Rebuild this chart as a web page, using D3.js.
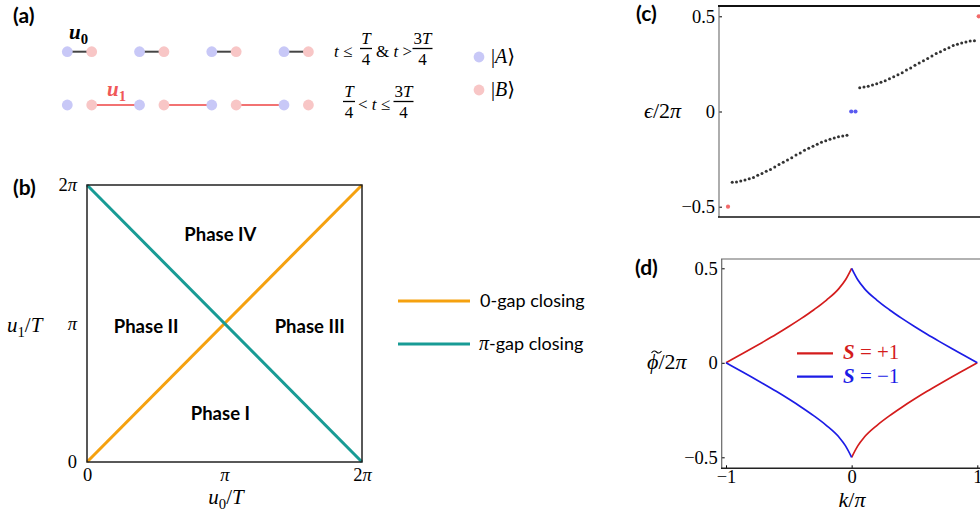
<!DOCTYPE html>
<html>
<head>
<meta charset="utf-8">
<script src="https://cdn.jsdelivr.net/npm/d3@7"></script>
<style>
  body { margin: 0; background: #fff; }
  svg { display: block; }
  .tag { font-family: Lato, "Open Sans", sans-serif; font-weight: bold; font-size: 21px; }
  .phase { font-family: Lato, "Open Sans", sans-serif; font-weight: bold; font-size: 18.5px; }
  .sans { font-family: Lato, "Open Sans", sans-serif; font-size: 18px; }
  .math { font-family: "Liberation Serif", "DejaVu Serif", serif; }
  .tick text { font-family: "Liberation Serif", "DejaVu Serif", serif; font-size: 18.5px; fill: #000; }
</style>
</head>
<body>
<div id="fig"></div>
<script>
// (a) SSH chain
var cells = [0, 1, 2, 3];
var sublattices = ["A", "B"];

// (b) phase diagram, axes in units of pi
var gapZero = [[0, 0], [2, 2]];
var gapPi = [[0, 2], [2, 0]];
var phaseNames = ["Phase I", "Phase II", "Phase III", "Phase IV"];
var piTicks = [0, 1, 2];
var gapNames = ["0-gap closing", "\u03C0-gap closing"];

// (c) quasienergy spectrum, eigenvalue index 1..60
var edgeBottom = [-0.5];
var bulkLow = [-0.372, -0.370, -0.365, -0.360, -0.353, -0.346, -0.335, -0.325, -0.314, -0.304,
               -0.291, -0.279, -0.267, -0.255, -0.243, -0.228, -0.218, -0.204, -0.193, -0.183,
               -0.172, -0.162, -0.153, -0.146, -0.139, -0.132, -0.129, -0.125];
var edgeZero = [0, 0];
var bulkHigh = [0.125, 0.129, 0.132, 0.139, 0.146, 0.153, 0.162, 0.172, 0.183, 0.193,
                0.204, 0.218, 0.228, 0.243, 0.255, 0.267, 0.279, 0.291, 0.304, 0.314,
                0.325, 0.335, 0.346, 0.353, 0.360, 0.365, 0.370, 0.372];
var edgeTop = [0.5];
var epsTicks = [-0.5, 0, 0.5];

// (d) phase of the winding
var kLeft = [-1, -0.9, -0.8, -0.7, -0.6, -0.5, -0.4, -0.3, -0.2, -0.1, -0.05, 0];
var kRight = [0, 0.05, 0.1, 0.2, 0.3, 0.4, 0.5, 0.6, 0.7, 0.8, 0.9, 1];
var sPlusLeft = [0, 0.037, 0.074, 0.112, 0.151, 0.192, 0.235, 0.281, 0.332, 0.394, 0.438, 0.5];
var sPlusRight = [-0.5, -0.438, -0.394, -0.332, -0.281, -0.235, -0.192, -0.151, -0.112, -0.074, -0.037, 0];
var sMinusLeft = [0, -0.037, -0.074, -0.112, -0.151, -0.192, -0.235, -0.281, -0.332, -0.394, -0.438, -0.5];
var sMinusRight = [0.5, 0.438, 0.394, 0.332, 0.281, 0.235, 0.192, 0.151, 0.112, 0.074, 0.037, 0];
var kTicks = [-1, 0, 1];
var phiTicks = [-0.5, 0, 0.5];
var sValues = ["+1", "\u22121"];

var colA = "#c8c8f7", colB = "#f8c6c6",
    orange = "#f5a10f", teal = "#189b95",
    red = "#d41c1c", blue = "#1c1ce6";

var svg = d3.select("#fig")
  .append("svg")
  .attr("width", 980)
  .attr("height", 520);

function tag(x, y, s) {
  svg.append("text").attr("class", "tag").attr("x", x).attr("y", y).text(s);
}

// math text: parts = [string, italic, bold, sub, unsub]
function mathText(g, x, y, parts, size, anchor, fill) {
  var t = g.append("text")
    .attr("class", "math")
    .attr("x", x).attr("y", y)
    .attr("font-size", size)
    .attr("text-anchor", anchor || "start")
    .attr("fill", fill || "#000");
  parts.forEach(function (p) {
    var ts = t.append("tspan").text(p[0]);
    if (p[1]) ts.attr("font-style", "italic");
    if (p[2]) ts.attr("font-weight", "bold");
    if (p[3]) ts.attr("font-size", size * 0.7).attr("dy", size * 0.25);
    if (p[4]) ts.attr("dy", -size * 0.25);
  });
  return t;
}

function frac(x, yBar, num, den) {
  var w = num.length > 1 ? 20 : 12;
  svg.append("line")
    .attr("x1", x - w / 2).attr("x2", x + w / 2)
    .attr("y1", yBar).attr("y2", yBar)
    .attr("stroke", "#000").attr("stroke-width", 1.3);
  var t = mathText(svg, x, yBar - 5, [], 17, "middle");
  num.split("").forEach(function (c) {
    var s = t.append("tspan").text(c);
    if (c === "T") s.attr("font-style", "italic");
  });
  mathText(svg, x, yBar + 16, [[den]], 17, "middle");
}

// ---------- (a)
tag(13, 23, "(a)");

var siteX = d3.scaleLinear().domain([0, 3]).range([67.3, 284]);
var bOff = 24.4, row1 = 51.7, row2 = 105;

svg.selectAll(".intra")
  .data(cells)
  .enter()
  .append("line")
  .attr("x1", d => siteX(d)).attr("x2", d => siteX(d) + bOff)
  .attr("y1", row1).attr("y2", row1)
  .attr("stroke", "#444").attr("stroke-width", 2);

svg.selectAll(".inter")
  .data(cells.slice(0, 3))
  .enter()
  .append("line")
  .attr("x1", d => siteX(d) + bOff).attr("x2", d => siteX(d + 1))
  .attr("y1", row2).attr("y2", row2)
  .attr("stroke", "#f27272").attr("stroke-width", 2);

[row1, row2].forEach(function (ry) {
  sublattices.forEach(function (s, j) {
    svg.selectAll(null)
      .data(cells)
      .enter()
      .append("circle")
      .attr("cx", d => siteX(d) + j * bOff)
      .attr("cy", ry)
      .attr("r", 5.4)
      .attr("fill", j ? colB : colA);
  });
});

mathText(svg, 69, 39, [["u", true, true], ["0", false, true, true]], 21);
mathText(svg, 107, 96, [["u", true, true], ["1", false, true, true]], 21, "start", "#f05858");

mathText(svg, 334, 57, [["t", true], [" \u2264"]], 17);
frac(366, 48.5, "T", "4");
mathText(svg, 376, 57, [["& "], ["t", true], [" >"]], 17);
frac(422.5, 48.5, "3T", "4");

frac(349, 101.5, "T", "4");
mathText(svg, 358, 110, [["< "], ["t", true], [" \u2264"]], 17);
frac(403.5, 101.5, "3T", "4");

sublattices.forEach(function (s, j) {
  var cy = j ? 90 : 57;
  svg.append("circle").attr("cx", 479).attr("cy", cy).attr("r", 5.4).attr("fill", j ? colB : colA);
  mathText(svg, 491, cy + 6, [["|"], [s, true], ["\u27E9"]], 20);
});

// ---------- (b)
tag(13, 195, "(b)");

var xB = d3.scaleLinear().domain([0, 2]).range([87, 362]);
var yB = d3.scaleLinear().domain([0, 2]).range([462, 185]);
var gB = svg.append("g");

function piLabel(sel) {
  sel.selectAll(".tick text").each(function (d) {
    var t = d3.select(this).text("");
    if (d === 0) t.append("tspan").text("0");
    else {
      if (d === 2) t.append("tspan").text("2");
      t.append("tspan").attr("font-style", "italic").text("\u03C0");
    }
  });
  sel.select(".domain").remove();
}

gB.append("g")
  .attr("transform", "translate(87,0)")
  .call(d3.axisLeft(yB).tickValues(piTicks).tickSize(0).tickPadding(10))
  .call(piLabel);

gB.append("g")
  .attr("transform", "translate(0,462)")
  .call(d3.axisBottom(xB).tickValues(piTicks).tickSize(0).tickPadding(6))
  .call(piLabel);

var lineB = d3.line().x(d => xB(d[0])).y(d => yB(d[1]));
gB.append("path").datum(gapZero).attr("d", lineB)
  .attr("fill", "none").attr("stroke", orange).attr("stroke-width", 3);
gB.append("path").datum(gapPi).attr("d", lineB)
  .attr("fill", "none").attr("stroke", teal).attr("stroke-width", 3);

gB.append("rect")
  .attr("x", 87).attr("y", 185).attr("width", 275).attr("height", 277)
  .attr("fill", "none").attr("stroke", "#222").attr("stroke-width", 1.5);

var phaseAt = [[0.97, 0.35], [0.43, 0.98], [1.62, 0.98], [0.97, 1.64]];
gB.selectAll(".phase")
  .data(phaseNames)
  .enter()
  .append("text")
  .attr("class", "phase")
  .attr("x", (d, i) => xB(phaseAt[i][0]))
  .attr("y", (d, i) => yB(phaseAt[i][1]))
  .attr("dy", "0.35em")
  .attr("text-anchor", "middle")
  .text(d => d);

mathText(svg, 7, 332, [["u", true], ["1", false, false, true], ["/", false, false, false, true], ["T", true]], 21);
mathText(svg, 226, 504, [["u", true], ["0", false, false, true], ["/", false, false, false, true], ["T", true]], 21, "middle");

[orange, teal].forEach(function (c, i) {
  var y = 301 + i * 43;
  svg.append("line").attr("x1", 398).attr("x2", 470).attr("y1", y).attr("y2", y)
    .attr("stroke", c).attr("stroke-width", 3);
});
svg.append("text").attr("class", "sans").attr("x", 480).attr("y", 307).text(gapNames[0]);
var pg = svg.append("text").attr("class", "sans").attr("x", 479).attr("y", 350);
pg.append("tspan").attr("class", "math").attr("font-style", "italic").attr("font-size", 20).text("\u03C0");
pg.append("tspan").text(gapNames[1].slice(1));

// ---------- (c)
tag(636, 21, "(c)");

var levels = [];
edgeBottom.forEach(v => levels.push({e: v, kind: "pi"}));
bulkLow.forEach(v => levels.push({e: v, kind: "bulk"}));
edgeZero.forEach(v => levels.push({e: v, kind: "zero"}));
bulkHigh.forEach(v => levels.push({e: v, kind: "bulk"}));
edgeTop.forEach(v => levels.push({e: v, kind: "pi"}));

var xC = d3.scaleLinear().domain([1, 60]).range([728, 978.7]);
var yC = d3.scaleLinear().domain([-0.5, 0.5]).range([206.7, 16.3]);
var gC = svg.append("g");
var numFmt = d => d === 0 ? "0" : d3.format(".1f")(d);
var intFmt = d3.format("d");

gC.append("g")
  .attr("transform", "translate(719,0)")
  .call(d3.axisLeft(yC).tickValues(epsTicks).tickSize(-3).tickPadding(4).tickFormat(numFmt))
  .call(g => g.select(".domain").remove());

gC.append("line").attr("x1", 719).attr("x2", 719).attr("y1", 6).attr("y2", 217)
  .attr("stroke", "#777").attr("stroke-width", 1.2);
gC.append("line").attr("x1", 718).attr("x2", 990).attr("y1", 6).attr("y2", 6)
  .attr("stroke", "#111").attr("stroke-width", 2);
gC.append("line").attr("x1", 718).attr("x2", 990).attr("y1", 217).attr("y2", 217)
  .attr("stroke", "#111").attr("stroke-width", 1.6);

gC.selectAll(".lev")
  .data(levels)
  .enter()
  .append("circle")
  .attr("cx", (d, i) => xC(i + 1))
  .attr("cy", d => yC(d.e))
  .attr("r", d => d.kind === "bulk" ? 1.5 : 2.1)
  .attr("fill", d => d.kind === "bulk" ? "#333" : d.kind === "zero" ? "#5a5af0" : "#f26a6a");

mathText(svg, 644, 118, [["\u03F5", true], ["/2"], ["\u03C0", true]], 22);

// ---------- (d)
tag(635, 275, "(d)");

var xD = d3.scaleLinear().domain([-1, 1]).range([726, 977.3]);
var yD = d3.scaleLinear().domain([-0.5, 0.5]).range([457.3, 268.3]);
var gD = svg.append("g");

gD.append("g")
  .attr("transform", "translate(721.7,0)")
  .call(d3.axisLeft(yD).tickValues(phiTicks).tickSize(-3).tickPadding(4).tickFormat(numFmt))
  .call(g => g.select(".domain").remove());
gD.append("g")
  .attr("transform", "translate(0,468.3)")
  .call(d3.axisBottom(xD).tickValues(kTicks).tickSize(-3).tickPadding(2).tickFormat(intFmt))
  .call(g => g.select(".domain").remove());

gD.append("line").attr("x1", 721.7).attr("x2", 721.7).attr("y1", 259).attr("y2", 468.3)
  .attr("stroke", "#666").attr("stroke-width", 1.2);
gD.append("line").attr("x1", 721).attr("x2", 990).attr("y1", 259).attr("y2", 259)
  .attr("stroke", "#666").attr("stroke-width", 1.2);
gD.append("line").attr("x1", 721).attr("x2", 990).attr("y1", 468.3).attr("y2", 468.3)
  .attr("stroke", "#222").attr("stroke-width", 1.6);

var lineD = d3.line()
  .x(d => xD(d[0]))
  .y(d => yD(d[1]))
  .curve(d3.curveMonotoneX);

function half(ks, vs, c) {
  gD.append("path")
    .datum(ks.map((k, i) => [k, vs[i]]))
    .attr("d", lineD)
    .attr("fill", "none")
    .attr("stroke", c)
    .attr("stroke-width", 1.7);
}
half(kLeft, sPlusLeft, red);
half(kRight, sPlusRight, red);
half(kLeft, sMinusLeft, blue);
half(kRight, sMinusRight, blue);

[red, blue].forEach(function (c, i) {
  var y = 353.3 + i * 23.4;
  gD.append("line").attr("x1", 797).attr("x2", 833).attr("y1", y).attr("y2", y)
    .attr("stroke", c).attr("stroke-width", 2.2);
  mathText(gD, 843, y + 6, [["S", true, true], [" = " + sValues[i]]], 21, "start", c);
});

// phi with a drawn tilde over it
mathText(svg, 647, 369, [["\u03D5", true], ["/2"], ["\u03C0", true]], 22);
svg.append("path")
  .attr("d", "M651.5,353 q2.5,-3.5 5,-1 t5,-1")
  .attr("fill", "none").attr("stroke", "#000").attr("stroke-width", 1.1);
mathText(svg, 852, 507, [["k", true], ["/"], ["\u03C0", true]], 22, "middle");
</script>
</body>
</html>
